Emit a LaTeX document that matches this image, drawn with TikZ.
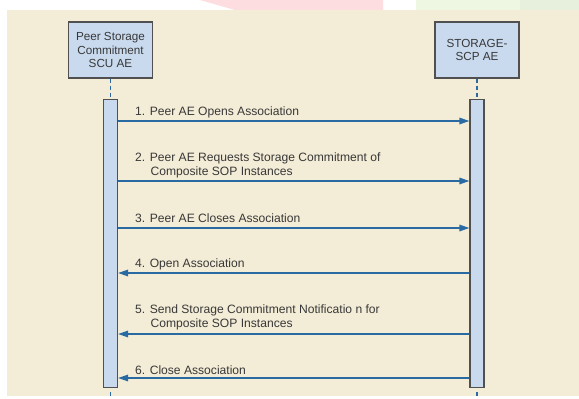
\documentclass[tikz,border=0pt]{standalone}
\usepackage{fontspec}
\setmainfont{Liberation Sans}
\usetikzlibrary{arrows.meta}

\definecolor{paper}{HTML}{F3ECD6}
\definecolor{boxfill}{HTML}{C9DAEE}
\definecolor{boxline}{HTML}{505050}
\definecolor{msgblue}{HTML}{2A6AA3}
\definecolor{txt}{HTML}{383838}
\definecolor{pinkband}{HTML}{FDDDE0}
\definecolor{greenA}{HTML}{EEF7E1}
\definecolor{greenB}{HTML}{E6F0DC}

\tikzset{
  actor/.style={draw=boxline, line width=1.4pt, fill=boxfill, rectangle,
    minimum width=84pt, minimum height=56pt, inner sep=0pt, align=center,
    text=txt, font=\fontsize{11.7}{13.5}\selectfont},
  activebar/.style={draw=boxline, line width=1.2pt, fill=boxfill, rectangle,
    minimum width=14pt, minimum height=288pt, inner sep=0pt},
  lifeline/.style={draw=msgblue, line width=1.3pt, dash pattern=on 4pt off 3pt},
  msg/.style={draw=msgblue, line width=1.5pt,
    -{Triangle[length=10pt,width=6.5pt]}},
  msglabel/.style={anchor=west, inner sep=0pt, align=left, text=txt,
    font=\fontsize{12.1}{14}\selectfont}
}

\begin{document}
\begin{tikzpicture}[x=1pt,y=-1pt]
  \useasboundingbox (0,0) rectangle (579,399);
  % page background and top bands
  \fill[white] (0,0) rectangle (579,399);
  \fill[pinkband] (200,0) -- (383,0) -- (383,10) -- (235,10) -- cycle;
  \fill[greenA] (416,0) rectangle (520,10);
  \fill[greenB] (520,0) rectangle (579,10);
  \fill[paper] (7,10) rectangle (579,396);

  % participants
  \node[actor] (scu) at (110.5,50) {Peer Storage\\Commitment\\SCU AE};
  \node[actor] (scp) at (477,50) {STORAGE-\\SCP AE};

  % activation bars
  \node[activebar, anchor=north] (lbar) at (110.5,99) {};
  \node[activebar, anchor=north] (rbar) at (477,99) {};

  % lifelines
  \draw[lifeline] (scu.south) -- (lbar.north);
  \draw[lifeline] (scp.south) -- (rbar.north);
  \coordinate (lend) at (110.5,397);
  \coordinate (rend) at (477,397);
  \draw[lifeline] (lbar.south) ++(0,4) -- (lend);
  \draw[lifeline] (rbar.south) ++(0,4) -- (rend);

  % message rows
  \coordinate (y1) at (0,121);
  \coordinate (y2) at (0,181);
  \coordinate (y3) at (0,228);
  \coordinate (y4) at (0,273);
  \coordinate (y5) at (0,334);
  \coordinate (y6) at (0,378);

  \draw[msg] (lbar.east |- y1) -- (rbar.west |- y1);
  \draw[msg] (lbar.east |- y2) -- (rbar.west |- y2);
  \draw[msg] (lbar.east |- y3) -- (rbar.west |- y3);
  \draw[msg] (rbar.west |- y4) -- (lbar.east |- y4);
  \draw[msg] (rbar.west |- y5) -- (lbar.east |- y5);
  \draw[msg] (rbar.west |- y6) -- (lbar.east |- y6);

  % message labels
  \node[msglabel] (t1) at (135,112.5) {1. Peer AE Opens Association};
  \node[msglabel] (t2) at (135,165.5) {2. Peer AE Requests Storage Commitment of\\\hspace*{15.5pt}Composite SOP Instances};
  \node[msglabel] (t3) at (135,218.5) {3. Peer AE Closes Association};
  \node[msglabel] (t4) at (135,264) {4. Open Association};
  \node[msglabel] (t5) at (135,317) {5. Send Storage Commitment Notificatio n for\\\hspace*{15.5pt}Composite SOP Instances};
  \node[msglabel] (t6) at (135,370.5) {6. Close Association};
\end{tikzpicture}
\end{document}
